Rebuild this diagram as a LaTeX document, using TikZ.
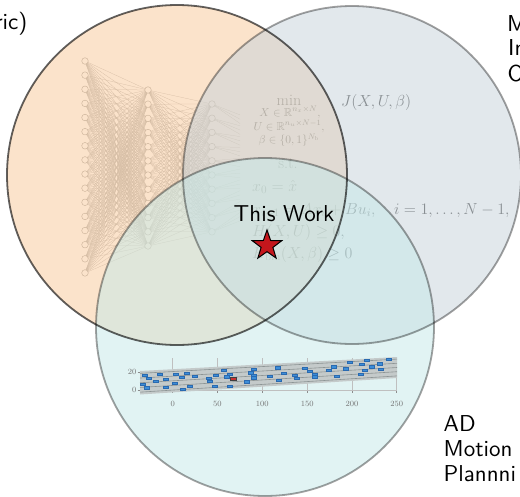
\RequirePackage{fix-cm}
\documentclass[tikz,border=0pt]{standalone}
\usepackage{amsmath,amssymb}
\usepackage{fontspec}
\newfontfamily\lmsten{lmsans10-regular.otf}
\usetikzlibrary{shapes.geometric}
\definecolor{corange}{HTML}{F9C999}
\definecolor{cblue}{HTML}{C7D3DB}
\definecolor{cteal}{HTML}{C5E9E9}
\definecolor{carblue}{HTML}{3D8ED8}
\definecolor{caredge}{HTML}{2A6AB0}
\definecolor{egored}{HTML}{C83232}
\definecolor{starred}{HTML}{C4161C}
\definecolor{roadgray}{HTML}{C4CACA}
\definecolor{lanegray}{HTML}{8C9494}
\tikzset{
  vc/.style={circle, minimum size=#1, inner sep=0pt, fill opacity=0.5, draw=none},
  bd/.style={line width=1.8pt, draw=black},
  nn/.style={circle, draw=black!38, fill=white, minimum size=6.6pt, inner sep=0pt, line width=0.45pt},
  nl/.style={draw=black!30, line width=0.25pt},
  ftxt/.style={font=\fontsize{16}{19}\selectfont, text=black!70, inner sep=0pt},
  fsub/.style={font=\fontsize{11.5}{14}\selectfont, text=black!70, inner sep=0pt},
  lbl/.style={font=\lmsten\fontsize{23}{26}\selectfont, text=black, inner sep=0pt},
  gridl/.style={draw=black!25, line width=0.5pt},
  tickl/.style={draw=black!45, line width=0.5pt},
  ticklbl/.style={font=\fontsize{8}{9}\selectfont, text=black!55, inner sep=0pt},
  car/.style={rectangle, minimum width=5pt, minimum height=2.6pt, inner sep=0pt, fill=carblue, draw=caredge, line width=0.3pt},
  egocar/.style={rectangle, minimum width=6.5pt, minimum height=3.2pt, inner sep=0pt, fill=egored, draw=black!75, line width=0.6pt},
}
\begin{document}
\begin{tikzpicture}[x=1pt,y=-1pt]
\useasboundingbox (0,0) rectangle (520,496);
\clip (0,0) rectangle (520,496);
\fill[white] (0,0) rectangle (520,496);

% ---------- neural network (under the circles) ----------
\foreach \i in {1,...,16} \coordinate (na\i) at (85,{61+(\i-1)*14.13});
\foreach \i in {1,...,12} \coordinate (nb\i) at (148,{90+(\i-1)*14.18});
\foreach \i in {1,...,10} \coordinate (nc\i) at (212,{104+(\i-1)*14.2});
\coordinate (no1) at (330,150);
\coordinate (no2) at (330,168);
\coordinate (no3) at (330,186);
\foreach \i in {1,...,16} \foreach \j in {1,...,12} \draw[nl] (na\i) -- (nb\j);
\foreach \i in {1,...,12} \foreach \j in {1,...,10} \draw[nl] (nb\i) -- (nc\j);
\begin{scope}
\clip (0,0) rectangle (240,496);
\foreach \i in {1,...,10} \foreach \j in {1,2,3} \draw[nl] (nc\i) -- (no\j);
\end{scope}
\foreach \i in {1,...,16} \node[nn] (nna\i) at (na\i) {};
\foreach \i in {1,...,12} \node[nn] (nnb\i) at (nb\i) {};
\foreach \i in {1,...,10} \node[nn] (nnc\i) at (nc\i) {};

% ---------- optimisation problem (under the circles) ----------
\node[ftxt, anchor=base] (fmin) at (289,105) {$\min$};
\node[fsub, anchor=base] (fs1) at (290,116) {$X\in\mathbb{R}^{n_x\times N},$};
\node[fsub, anchor=base] (fs2) at (289,130) {$U\in\mathbb{R}^{n_u\times N-1},$};
\node[fsub, anchor=base] (fs3) at (289,143.5) {$\beta\in\{0,1\}^{N_\mathrm{b}}$};
\node[ftxt, anchor=base west] (fJ) at (341,106) {$J(X,U,\beta)$};
\node[ftxt, anchor=base] (fst) at (288,168.5) {s.t.};
\node[ftxt, anchor=base west] (f0) at (252,191) {$x_0 = \hat{x}$};
\node[ftxt, anchor=base west] (f1) at (252,214) {$x_{i+1} = Ax_i + Bu_i,\quad i = 1,\ldots,N-1,$};
\node[ftxt, anchor=base west] (f2) at (252,236) {$H(X,U) \geq 0,$};
\node[ftxt, anchor=base west] (f3) at (252,258) {$H_{\mathrm{bin}}(X,\beta) \geq 0$};

% ---------- circle fills ----------
\node[vc=340pt, fill=corange] (cA) at (177,175) {};
\node[vc=338pt, fill=cblue] (cB) at (352,175) {};
\node[vc=338pt, fill=cteal] (cC) at (265,327) {};

% ---------- traffic plot ----------
\foreach \gx/\lab in {172.7/0, 217.3/50, 262.3/100, 307.3/150, 352/200, 396.7/250} {
  \draw[gridl] (\gx,358) -- (\gx,390);
  \draw[tickl] (\gx,390) -- (\gx,393);
  \node[ticklbl] (xt\lab) at (\gx,403.5) {\lab};
}
\draw[gridl] (140,390) -- (397,390);
\draw[tickl] (137.5,372) -- (140.5,372);
\draw[tickl] (137.5,390) -- (140.5,390);
\node[ticklbl, anchor=east] (yt20) at (136.5,372) {20};
\node[ticklbl, anchor=east] (yt0) at (136.5,390) {0};
\fill[roadgray] (140,371) -- (397,357) -- (397,378) -- (140,394.5) -- cycle;
\foreach \f in {0.1,0.3,0.5,0.7,0.9}
  \draw[lanegray, line width=0.6pt] (140,{371+\f*23.5}) -- (397,{357+\f*21});
\foreach \cx/\cy [count=\c] in {144.3/375.0, 148.3/378.3, 142.7/384.0, 146.7/387.7, 156.0/381.0,
  159.3/374.3, 166.0/379.0, 165.7/387.0, 174.7/383.3, 176.0/374.0, 182.0/377.3, 182.7/389.0,
  186.7/373.3, 189.3/386.3, 194.3/376.0, 208.3/378.3, 209.3/381.0, 216.0/375.0, 215.0/386.0,
  223.3/370.0, 226.7/376.7, 230.0/374.3, 230.0/386.0, 246.7/381.7, 251.0/372.7, 253.3/369.0,
  253.3/375.0, 253.3/377.7, 269.3/376.0, 277.7/367.7, 278.3/380.0, 283.7/373.3, 294.3/375.3,
  296.7/378.3, 304.3/368.3, 310.0/371.0, 315.0/374.0, 315.0/376.7, 329.0/370.0, 334.0/366.7,
  336.7/376.0, 346.0/368.7, 350.0/362.3, 360.7/374.0, 361.7/364.0, 366.7/360.3, 365.0/370.0,
  371.7/366.7, 380.0/363.7, 380.7/369.3, 388.3/359.0}
  \node[car] (car\c) at (\cx,\cy) {};
\node[egocar] (ego) at (233.3,378.7) {};

% ---------- circle borders ----------
\draw[bd, draw opacity=0.62] (cA.center) circle[radius=170pt];
\draw[bd, draw opacity=0.37] (cB.center) circle[radius=169pt];
\draw[bd, draw opacity=0.37] (cC.center) circle[radius=169pt];

% ---------- labels ----------
\node[lbl, anchor=base] (tw) at (284,221) {This Work};
\node[star, star points=5, star point ratio=2.5, fill=starred, draw=black, line width=1pt,
      minimum size=31pt, inner sep=0pt] (star) at (267,245.5) {};

\node[lbl, anchor=base east] (tl) at (27.5,29) {ric)};
\node[lbl, anchor=base west] (tr1) at (507,31.7) {M};
\node[lbl, anchor=base west] (tr2) at (508,55.5) {In};
\node[lbl, anchor=base west] (tr3) at (507.5,81) {O};
\node[lbl, anchor=base west] (br1) at (443.5,431.7) {AD};
\node[lbl, anchor=base west] (br2) at (443.5,456.7) {Motion};
\node[lbl, anchor=base west] (br3) at (443.5,481.7) {Plannni};
\end{tikzpicture}
\end{document}
